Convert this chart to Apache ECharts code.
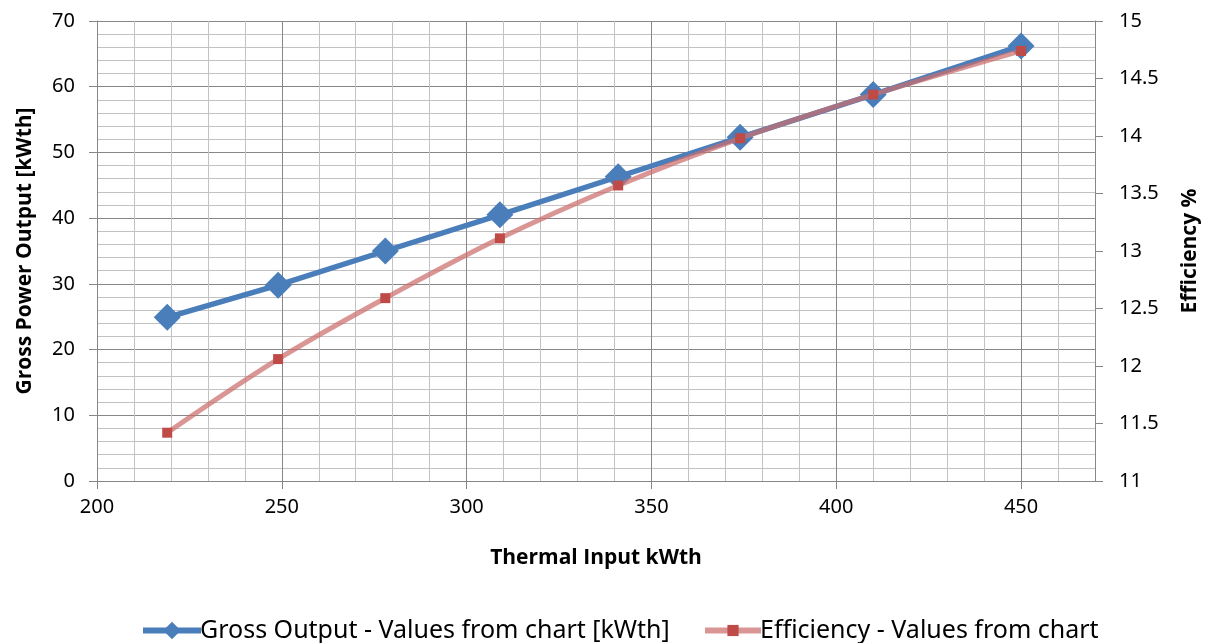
<!DOCTYPE html>
<html>
<head>
<meta charset="utf-8">
<script src="https://cdn.jsdelivr.net/npm/echarts@6/dist/echarts.min.js"></script>
<style>
html,body{margin:0;padding:0;background:#fff;}
#chart{width:1211px;height:643px;}
</style>
</head>
<body>
<div id="chart"></div>
<script>
const thermalInput = [219, 249, 278, 309, 341, 374, 410, 450];
const grossOutput = [24.9, 29.8, 35.0, 40.5, 46.3, 52.3, 58.8, 66.2];
const efficiency = [11.42, 12.06, 12.59, 13.11, 13.57, 13.98, 14.36, 14.74];
const xTickValues = [200, 250, 300, 350, 400, 450];
const leftTickValues = [0, 10, 20, 30, 40, 50, 60, 70];
const seriesNames = ['Gross Output - Values from chart [kWth]', 'Efficiency - Values from chart'];

const FONT = 'Noto Sans';
const TITLE_FONT = 'Open Sans';
const major = '#878787', minor = '#c2c2c2';
const gridColors = [major, minor, minor, minor, minor];
const titleStyle = {fontFamily: TITLE_FONT, fontWeight: 'bold', fontSize: 21, color: '#000'};
const tickLabel = {fontFamily: FONT, fontSize: 20, color: '#000'};
const legendText = {fontFamily: FONT, fontSize: 25, color: '#000', padding: [0, 0, 0, -6]};

const chart = echarts.init(document.getElementById('chart'), null, {renderer: 'canvas'});
chart.setOption({
  animation: false,
  backgroundColor: '#fff',
  textStyle: {fontFamily: FONT},
  grid: {left: 97, right: 116, top: 21, bottom: 162, containLabel: false},
  legend: [{
    top: 618, left: 140, padding: 0,
    itemWidth: 58, itemHeight: 22, itemGap: 10,
    lineStyle: {width: 6},
    textStyle: legendText,
    data: [seriesNames[0]]
  }, {
    top: 618, left: 702, padding: 0,
    itemWidth: 56, itemHeight: 14, itemGap: 10,
    lineStyle: {width: 6},
    textStyle: legendText,
    data: [seriesNames[1]]
  }],
  xAxis: [{
    type: 'value', min: 200, max: 470, interval: 10,
    name: 'Thermal Input kWth', nameLocation: 'middle', nameGap: 67,
    nameTextStyle: titleStyle,
    axisLine: {show: true, lineStyle: {color: major, width: 1}},
    axisTick: {show: true, length: 8, lineStyle: {color: major}, customValues: xTickValues},
    axisLabel: Object.assign({customValues: xTickValues, margin: 16}, tickLabel),
    splitLine: {show: false}
  }, {
    type: 'value', min: 200, max: 470, interval: 10, position: 'top',
    axisLine: {show: false}, axisTick: {show: false}, axisLabel: {show: false},
    splitLine: {show: true, lineStyle: {color: gridColors, width: 1}}
  }],
  yAxis: [{
    type: 'value', min: 0, max: 70, interval: 2, position: 'left',
    name: 'Gross Power Output [kWth]', nameLocation: 'middle', nameGap: 61, nameRotate: 90,
    nameTextStyle: titleStyle,
    axisLine: {show: true, lineStyle: {color: major, width: 1}},
    axisTick: {show: true, length: 8, lineStyle: {color: major}, customValues: leftTickValues},
    axisLabel: Object.assign({customValues: leftTickValues, margin: 22}, tickLabel),
    splitLine: {show: false}
  }, {
    type: 'value', min: 11, max: 15, interval: 0.5, position: 'right',
    name: 'Efficiency %', nameLocation: 'middle', nameGap: 85, nameRotate: 90,
    nameTextStyle: titleStyle,
    axisLine: {show: true, lineStyle: {color: major, width: 1}},
    axisTick: {show: true, length: 8, lineStyle: {color: major}},
    axisLabel: Object.assign({margin: 24}, tickLabel),
    splitLine: {show: false}
  }, {
    type: 'value', min: 0, max: 70, interval: 2, position: 'left',
    axisLine: {show: false}, axisTick: {show: false}, axisLabel: {show: false},
    splitLine: {show: true, lineStyle: {color: gridColors, width: 1}}
  }],
  series: [{
    name: seriesNames[0],
    type: 'line',
    xAxisIndex: 0, yAxisIndex: 0,
    data: thermalInput.map((x, i) => [x, grossOutput[i]]),
    symbol: 'diamond', symbolSize: 27,
    lineStyle: {color: '#4a7ebb', width: 5.5},
    itemStyle: {color: '#4a7ebb'},
    z: 3
  }, {
    name: seriesNames[1],
    type: 'line',
    xAxisIndex: 0, yAxisIndex: 1,
    smooth: 0.35,
    data: thermalInput.map((x, i) => [x, efficiency[i]]),
    symbol: 'rect', symbolSize: 10,
    lineStyle: {color: 'rgba(204,110,108,0.72)', width: 5},
    itemStyle: {color: '#be4b48'},
    z: 4
  }]
});
</script>
</body>
</html>
